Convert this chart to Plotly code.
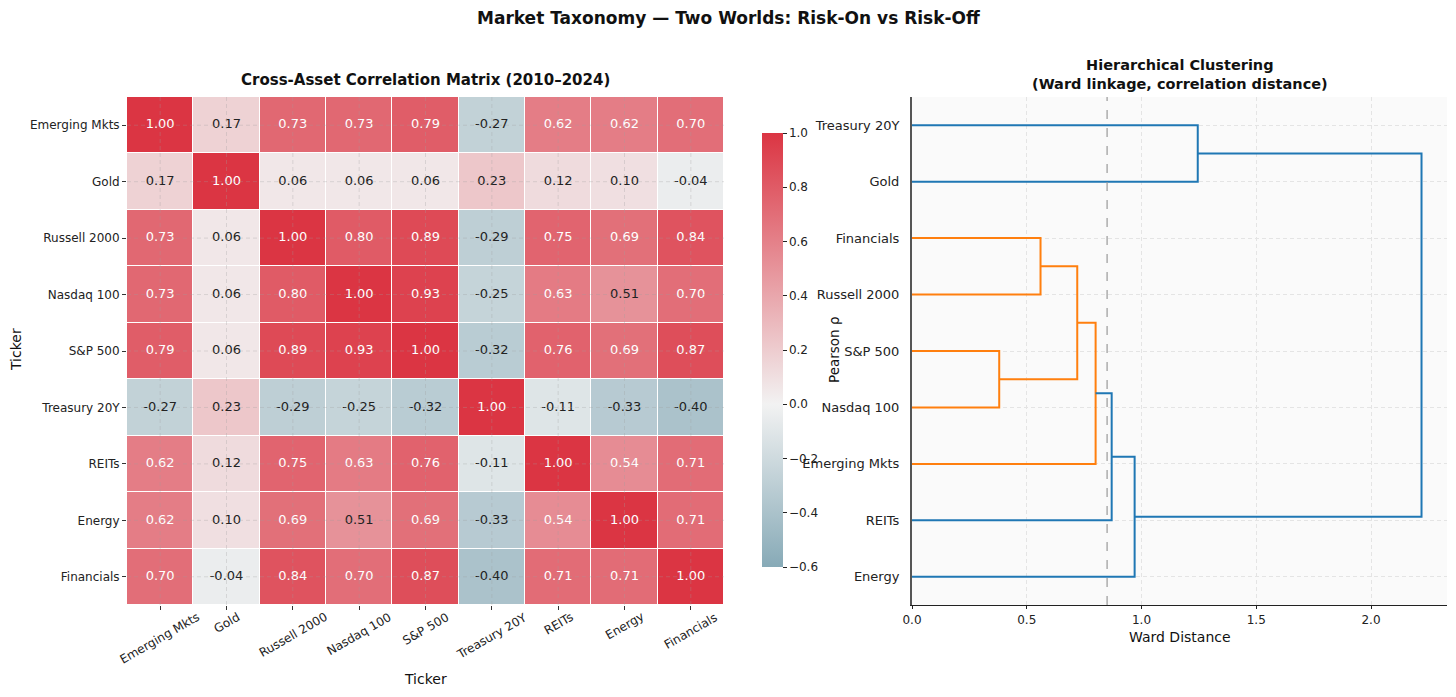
import plotly.graph_objects as go

# ---------------- data ----------------
tickers = ["Emerging Mkts", "Gold", "Russell 2000", "Nasdaq 100", "S&P 500",
           "Treasury 20Y", "REITs", "Energy", "Financials"]
corr = [
    [1.00, 0.17, 0.73, 0.73, 0.79, -0.27, 0.62, 0.62, 0.70],
    [0.17, 1.00, 0.06, 0.06, 0.06, 0.23, 0.12, 0.10, -0.04],
    [0.73, 0.06, 1.00, 0.80, 0.89, -0.29, 0.75, 0.69, 0.84],
    [0.73, 0.06, 0.80, 1.00, 0.93, -0.25, 0.63, 0.51, 0.70],
    [0.79, 0.06, 0.89, 0.93, 1.00, -0.32, 0.76, 0.69, 0.87],
    [-0.27, 0.23, -0.29, -0.25, -0.32, 1.00, -0.11, -0.33, -0.40],
    [0.62, 0.12, 0.75, 0.63, 0.76, -0.11, 1.00, 0.54, 0.71],
    [0.62, 0.10, 0.69, 0.51, 0.69, -0.33, 0.54, 1.00, 0.71],
    [0.70, -0.04, 0.84, 0.70, 0.87, -0.40, 0.71, 0.71, 1.00],
]
cbar_ticks = [1.0, 0.8, 0.6, 0.4, 0.2, 0.0, -0.2, -0.4, -0.6]

# dendrogram leaves (bottom -> top) and linkage (child a, child b, distance)
leaf_labels = ["Energy", "REITs", "Emerging Mkts", "Nasdaq 100", "S&P 500",
               "Russell 2000", "Financials", "Gold", "Treasury 20Y"]
link_a = [4, 6, 10, 11, 12, 13, 8, 15]
link_b = [3, 5, 9, 2, 1, 0, 7, 14]
link_d = [0.38, 0.56, 0.72, 0.80, 0.87, 0.97, 1.245, 2.22]
threshold = 0.85
dist_ticks = [0.0, 0.5, 1.0, 1.5, 2.0]

# ---------------- geometry helpers ----------------
W, H = 1456, 697
def px(x): return x / W
def py(y): return 1 - y / H

FONT = "DejaVu Sans"
fig = go.Figure()

# colours: seaborn-like diverging palette centred at 0
neg = (64, 122, 144)
mid = (242, 242, 242)
pos = (219, 53, 67)
zmin, zmax = -0.6, 1.0
def mix(a, b, t):
    return "rgb(%d,%d,%d)" % tuple(round(a[i] + (b[i] - a[i]) * t) for i in range(3))
cpos0 = (0 - zmin) / (zmax - zmin)
colorscale = [[0.0, mix(mid, neg, -zmin / 1.0)], [cpos0, mix(mid, mid, 0)], [1.0, mix(mid, pos, 1.0)]]

n = len(tickers)
fig.add_trace(go.Heatmap(
    z=corr, x=list(range(n)), y=list(range(n)),
    zmin=zmin, zmax=zmax, colorscale=colorscale, xgap=1, ygap=1,
    hoverinfo="skip",
    colorbar=dict(x=px(762), xanchor="left", y=py(350), yanchor="middle",
                  len=(567 - 133) / H, lenmode="fraction", thickness=21,
                  xpad=0, ypad=0, outlinewidth=0, tickvals=cbar_ticks, tickformat=".1f",
                  ticks="outside", ticklen=4, tickcolor="#222",
                  tickfont=dict(family=FONT, size=12, color="#222")),
    xaxis="x", yaxis="y"))

# cell annotations
tx, ty, tt, tc = [], [], [], []
for i in range(n):
    for j in range(n):
        v = corr[i][j]
        tx.append(j); ty.append(i)
        tt.append("%.2f" % v)
        tc.append("white" if v >= 0.52 else "#222")
fig.add_trace(go.Scatter(x=tx, y=ty, text=tt, mode="text",
                         textfont=dict(family=FONT, size=13, color=tc),
                         hoverinfo="skip", showlegend=False, xaxis="x", yaxis="y"))

# ---------------- dendrogram ----------------
node_y = {i: 5 + 10 * i for i in range(len(leaf_labels))}
node_h = {i: 0.0 for i in range(len(leaf_labels))}
seg = {"#ff7f0e": ([], []), "#1f77b4": ([], [])}
for k, (a, b, d) in enumerate(zip(link_a, link_b, link_d)):
    nid = len(leaf_labels) + k
    col = "#ff7f0e" if d < threshold else "#1f77b4"
    xs, ys = seg[col]
    xs += [node_h[a], d, d, node_h[b], None]
    ys += [node_y[a], node_y[a], node_y[b], node_y[b], None]
    node_y[nid] = (node_y[a] + node_y[b]) / 2
    node_h[nid] = d
for col, (xs, ys) in seg.items():
    fig.add_trace(go.Scatter(x=xs, y=ys, mode="lines", line=dict(color=col, width=2),
                             hoverinfo="skip", showlegend=False, xaxis="x2", yaxis="y2"))

dom_y = [py(605), py(97)]
fig.update_layout(
    width=W, height=H, margin=dict(l=0, r=0, t=0, b=0, autoexpand=False),
    paper_bgcolor="white", plot_bgcolor="white", showlegend=False,
    font=dict(family=FONT, color="#222"),
    xaxis=dict(domain=[px(127), px(724)], range=[-0.5, n - 0.5], tickvals=list(range(n)),
               showticklabels=False, ticks="outside", ticklen=4, tickcolor="#333",
               showgrid=False, zeroline=False, showline=False, anchor="y", automargin=False),
    yaxis=dict(domain=dom_y, range=[n - 0.5, -0.5], tickvals=list(range(n)), ticktext=tickers,
               ticks="outside", ticklen=4, tickcolor="#333", showgrid=False, zeroline=False,
               tickfont=dict(family=FONT, size=12, color="#222"), anchor="x", automargin=False),
    xaxis2=dict(domain=[px(912), px(1447)], range=[0, max(link_d) * 1.05], tickvals=dist_ticks,
                tickformat=".1f", ticks="outside", ticklen=3, tickcolor="#222",
                showline=True, linecolor="#222", linewidth=1.3,
                showgrid=True, gridcolor="#e4e4e4", griddash="4px,3px", gridwidth=1,
                zeroline=False, tickfont=dict(family=FONT, size=12, color="#222"),
                anchor="y2", automargin=False),
    yaxis2=dict(domain=dom_y, range=[0, 10 * len(leaf_labels)],
                tickvals=[5 + 10 * i for i in range(len(leaf_labels))], ticktext=leaf_labels,
                ticks="", showline=True, linecolor="#555", linewidth=2,
                showgrid=True, gridcolor="#e4e4e4", griddash="4px,3px", gridwidth=1,
                zeroline=False, tickfont=dict(family=FONT, size=13, color="#222"),
                ticklabelstandoff=8, anchor="x2", automargin=False),
)

# dendrogram background
fig.add_shape(type="rect", xref="x2 domain", yref="y2 domain", x0=0, x1=1, y0=0, y1=1,
              fillcolor="#fafafa", line=dict(width=0), layer="below")
fig.add_shape(type="line", xref="x2", yref="y2 domain", x0=threshold, x1=threshold, y0=0, y1=1,
              line=dict(color="#999", width=1.2, dash="dash"), layer="above")

# heatmap faint grid through cell centres
for k in range(n):
    fig.add_shape(type="line", xref="x", yref="y", x0=k, x1=k, y0=-0.5, y1=n - 0.5,
                  line=dict(color="rgba(160,160,160,0.3)", width=1, dash="4px,3px"), layer="above")
    fig.add_shape(type="line", xref="x", yref="y", x0=-0.5, x1=n - 0.5, y0=k, y1=k,
                  line=dict(color="rgba(160,160,160,0.3)", width=1, dash="4px,3px"), layer="above")

# rotated x tick labels of the heatmap
for j, t in enumerate(tickers):
    fig.add_annotation(x=j, xref="x", y=py(607), yref="paper", text=t, textangle=-30,
                       showarrow=False, xanchor="center", yanchor="top",
                       font=dict(family=FONT, size=12, color="#222"))

ann = [
    dict(x=0.5, y=py(18), text="<b>Market Taxonomy — Two Worlds: Risk-On vs Risk-Off</b>", size=17),
    dict(x=px(425), y=py(80), text="<b>Cross-Asset Correlation Matrix (2010–2024)</b>", size=15),
    dict(x=px(1180), y=py(74), text="<b>Hierarchical Clustering<br>(Ward linkage, correlation distance)</b>", size=14.5),
    dict(x=px(425), y=py(679), text="Ticker", size=14),
    dict(x=px(1180), y=py(637), text="Ward Distance", size=14),
]
for a in ann:
    fig.add_annotation(x=a["x"], y=a["y"], xref="paper", yref="paper", text=a["text"],
                       showarrow=False, xanchor="center", yanchor="middle",
                       font=dict(family=FONT, size=a["size"], color="#111"))
fig.add_annotation(x=px(16), y=py(350), xref="paper", yref="paper", text="Ticker", textangle=-90,
                   showarrow=False, xanchor="center", yanchor="middle",
                   font=dict(family=FONT, size=14, color="#111"))
fig.add_annotation(x=px(834), y=py(350), xref="paper", yref="paper", text="Pearson ρ", textangle=-90,
                   showarrow=False, xanchor="center", yanchor="middle",
                   font=dict(family=FONT, size=13.5, color="#111"))

fig.write_html("out.html")
